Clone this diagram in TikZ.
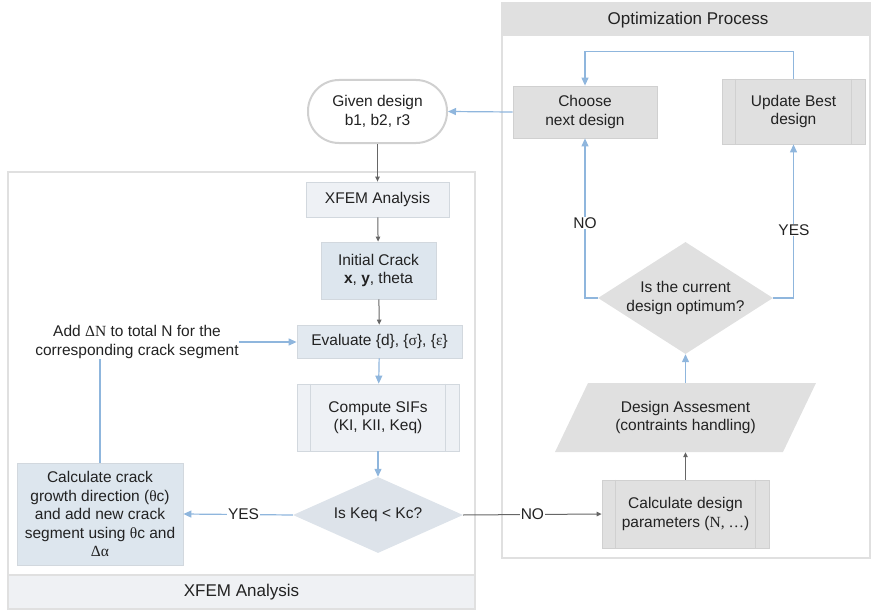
\documentclass[tikz,border=0pt]{standalone}
\usepackage{fontspec}
\setmainfont{Liberation Sans}
\newfontfamily\symf{Liberation Serif}
\usetikzlibrary{arrows.meta,shapes.geometric}
\definecolor{txt}{HTML}{222222}
\definecolor{panelline}{HTML}{E0E0E0}
\definecolor{bandfill}{HTML}{EFF1F4}
\definecolor{headfill}{HTML}{E0E0E0}
\definecolor{paleblue}{HTML}{EEF1F5}
\definecolor{lightblue}{HTML}{DDE6EE}
\definecolor{evalblue}{HTML}{E2E9F0}
\definecolor{keqfill}{HTML}{DDE3EA}
\definecolor{boxline}{HTML}{D2D8DE}
\definecolor{grayfill}{HTML}{E0E0E0}
\definecolor{grayline}{HTML}{D0D0D0}
\definecolor{blueline}{HTML}{8FB6DD}
\definecolor{darkline}{HTML}{666666}
\tikzset{
  bodyfont/.style={font=\fontsize{15.5}{18.5}\selectfont},
  headfont/.style={font=\fontsize{17}{20}\selectfont},
  panel/.style={draw=panelline, line width=1.2pt},
  basebox/.style={rectangle, align=center, inner sep=0pt, text=txt, bodyfont},
  startbox/.style={basebox, draw=grayline, line width=2pt, fill=white, rounded corners=31pt},
  pbox/.style={basebox, draw=boxline, line width=0.8pt, fill=paleblue},
  lbbox/.style={basebox, draw=boxline, line width=0.8pt, fill=lightblue},
  ebox/.style={basebox, draw=boxline, line width=0.8pt, fill=evalblue},
  gbox/.style={basebox, draw=grayline, line width=0.8pt, fill=grayfill},
  decision/.style={diamond, align=center, inner sep=0pt, text=txt, bodyfont},
  bluearrow/.style={draw=blueline, line width=1.2pt, -{Triangle[length=8pt,width=7pt]}},
  blueplain/.style={draw=blueline, line width=1.2pt},
  grayarrow/.style={draw=darkline, line width=1pt, -{Triangle[length=5pt,width=4.5pt]}},
  lab/.style={fill=white, inner sep=1pt, text=txt, bodyfont},
}
\begin{document}
\begin{tikzpicture}[x=1pt,y=-1pt]
\useasboundingbox (0,0) rectangle (871,610);
% panels
\draw[panel] (8,172) rectangle (475,609);
\draw[panel, fill=bandfill] (8,575) rectangle (475,609);
\node[headfont, text=txt] (xfemband) at (241.5,592) {XFEM Analysis};
\draw[panel] (502,3) rectangle (870,558);
\fill[headfill] (502,3) rectangle (870,36);
\node[headfont, text=txt] (opthead) at (688,20.5) {Optimization Process};

% left column
\node[startbox, minimum width=139pt, minimum height=63pt] (given) at (377.5,111.5) {Given design\\b1, b2, r3};
\node[pbox, minimum width=143pt, minimum height=35pt] (xfem) at (377.5,199.5) {XFEM Analysis};
\node[lbbox, minimum width=115pt, minimum height=57pt] (init) at (378.5,270.5) {Initial Crack\\\textbf{x}, \textbf{y}, theta};
\node[ebox, minimum width=165pt, minimum height=33pt] (eval) at (379.5,341.5) {Evaluate \{d\}, \{{\symf σ}\}, \{{\symf ε}\}};
\node[pbox, minimum width=162pt, minimum height=67pt] (sifs) at (378,417.5) {Compute SIFs\\(KI, KII, Keq)};
\draw[boxline, line width=0.8pt] ([xshift=14pt]sifs.north west) -- ([xshift=14pt]sifs.south west);
\draw[boxline, line width=0.8pt] ([xshift=-14pt]sifs.north east) -- ([xshift=-14pt]sifs.south east);
\node[decision, fill=keqfill, minimum width=170pt, minimum height=76pt, aspect=2.24] (keq) at (378,515) {Is Keq \textless{} Kc?};
\node[lbbox, minimum width=166pt, minimum height=102pt] (grow) at (100,514) {Calculate crack\\growth direction ({\symf θ}c)\\and add new crack\\segment using {\symf θ}c and\\{\symf Δα}};
\node[basebox] (addn) at (137,342) {Add {\symf ΔN} to total N for the\\corresponding crack segment};

% right column
\node[gbox, minimum width=144pt, minimum height=52pt] (choose) at (585,112) {Choose\\next design};
\node[gbox, minimum width=143pt, minimum height=65pt] (update) at (793.5,111.5) {Update Best\\design};
\draw[grayline, line width=0.8pt] ([xshift=14pt]update.north west) -- ([xshift=14pt]update.south west);
\draw[grayline, line width=0.8pt] ([xshift=-14pt]update.north east) -- ([xshift=-14pt]update.south east);
\node[decision, fill=grayfill, minimum width=175pt, minimum height=112pt, aspect=1.5625] (opt) at (685.5,298) {Is the current\\design optimum?};
\fill[grayfill] (555,452) -- (588,383) -- (816,383) -- (783,452) -- cycle;
\node[basebox, minimum height=69pt] (assess) at (685.5,417.5) {Design Assesment\\(contraints handling)};
\node[gbox, minimum width=167pt, minimum height=68pt] (calcdp) at (685.5,514) {Calculate design\\parameters ({\symf N, …})};
\draw[grayline, line width=0.8pt] ([xshift=14pt]calcdp.north west) -- ([xshift=14pt]calcdp.south west);
\draw[grayline, line width=0.8pt] ([xshift=-14pt]calcdp.north east) -- ([xshift=-14pt]calcdp.south east);

% connectors
\draw[grayarrow] (given) -- (xfem);
\draw[grayarrow] (xfem) -- (init);
\draw[grayarrow] (init) -- (eval);
\draw[bluearrow] (eval) -- (sifs);
\draw[bluearrow] (sifs) -- (keq);
\draw[bluearrow] (keq.west) -- node[lab, pos=0.45] {YES} (grow.east);
\draw[grayarrow] (keq.east) -- node[lab, pos=0.5] {NO} (calcdp.west);
\draw[blueplain] (grow.north) -- (grow.north |- addn.south);
\draw[bluearrow] (addn.east) -- (addn.east -| eval.west);
\draw[grayarrow] (calcdp) -- (assess.south);
\draw[bluearrow] (assess.north) -- (opt.south);
\draw[bluearrow] (opt.west) -| (choose.south);
\draw[bluearrow] (opt.east) -| (update.south);
\node[lab] (nolab) at (585,223) {NO};
\node[lab] (yeslab) at (794,230) {YES};
\draw[bluearrow] (update.north) -- ++(0,-27) -| (choose.north);
\draw[bluearrow] (choose.west) -- (given.east);
\end{tikzpicture}
\end{document}
